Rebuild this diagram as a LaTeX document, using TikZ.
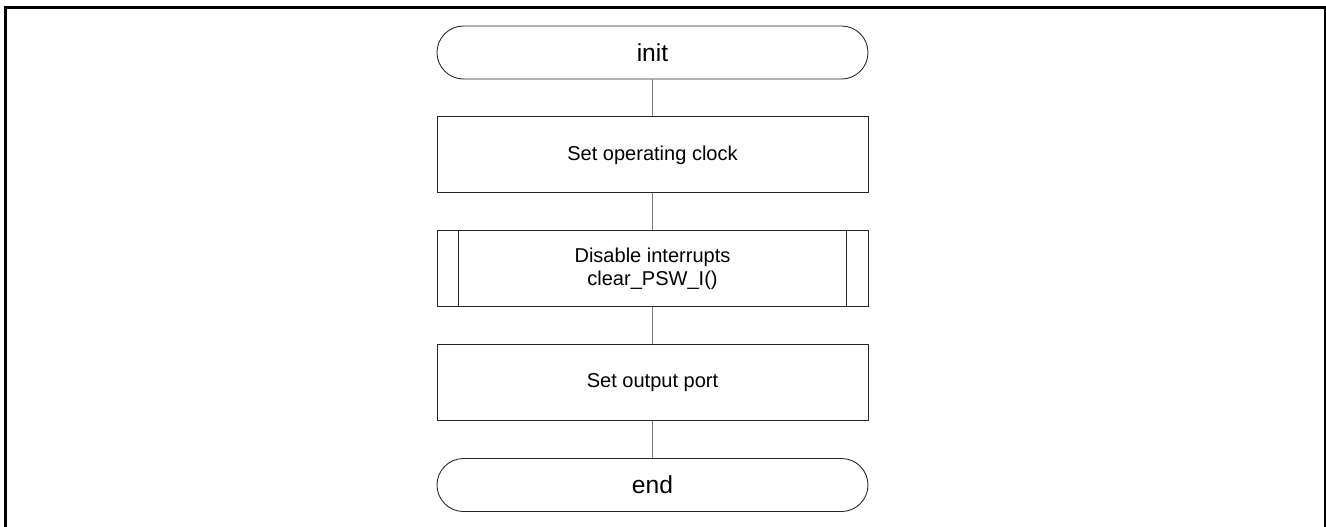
\documentclass[tikz,border=0pt]{standalone}
\usepackage{fontspec}
\setmainfont{Liberation Sans}
\usepackage{tikz}
\usetikzlibrary{
    positioning
}
\tikzstyle{terminal} = [
    draw=black!85,
    line width=0.5pt,
    rectangle,
    rounded corners=0.53cm,
    minimum width=8.62cm,
    minimum height=1.06cm,
    font=\fontsize{14}{16}\selectfont
]
\tikzstyle{process} = [
    draw=black!85,
    line width=0.5pt,
    rectangle,
    minimum width=8.62cm,
    minimum height=1.52cm,
    align=center,
    font=\fontsize{11.4}{13.5}\selectfont
]
\tikzstyle{line} = [
    draw=black!50,
    line width=0.6pt
]

\begin{document}
\begin{tikzpicture}[node distance=0.74cm]
% Bildgröße
\useasboundingbox (0,0) rectangle (26.52,-10.54);

% Rahmen
\draw[line width=1.6pt] (0.11,-10.6) -- (0.11,-0.15) -- (26.50,-0.15) -- (26.50,-10.6);

% Ablauf
\node[terminal] (init) at (13.05,-1.05) {init};
\node[process, below=of init] (clock) {Set operating clock};
\node[process, below=of clock] (irq) {Disable interrupts\\clear\_PSW\_I()};
\node[process, below=of irq] (port) {Set output port};
\node[terminal, below=of port] (end) {end};

% Unterprogramm-Striche
\draw[draw=black!85, line width=0.5pt] ([xshift=0.44cm]irq.north west) -- ([xshift=0.44cm]irq.south west);
\draw[draw=black!85, line width=0.5pt] ([xshift=-0.44cm]irq.north east) -- ([xshift=-0.44cm]irq.south east);

% Verbindungen
\draw[line] (init) -- (clock);
\draw[line] (clock) -- (irq);
\draw[line] (irq) -- (port);
\draw[line] (port) -- (end);
\end{tikzpicture}
\end{document}
